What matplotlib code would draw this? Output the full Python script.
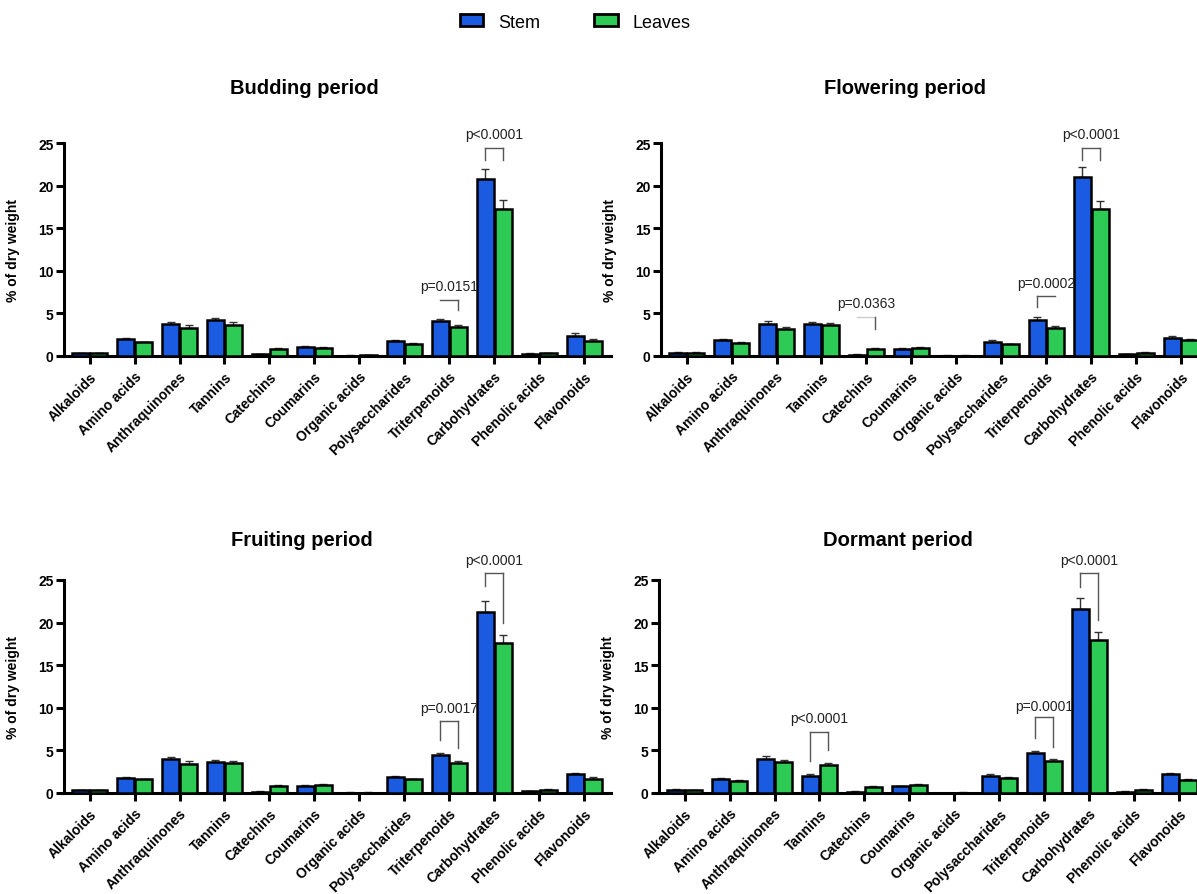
import numpy as np
import matplotlib
matplotlib.use("Agg")
import matplotlib.pyplot as plt
from matplotlib.patches import Patch

plt.rcParams['font.family'] = ['Liberation Sans', 'DejaVu Sans']

categories = ["Alkaloids", "Amino acids", "Anthraquinones", "Tannins", "Catechins",
              "Coumarins", "Organic acids", "Polysaccharides", "Triterpenoids",
              "Carbohydrates", "Phenolic acids", "Flavonoids"]

# % of dry weight
budding_stem = [0.35, 2.0, 3.7, 4.2, 0.2, 1.05, 0.05, 1.75, 4.1, 20.75, 0.25, 2.4]
budding_leaves = [0.35, 1.6, 3.3, 3.6, 0.85, 0.95, 0.08, 1.4, 3.35, 17.3, 0.35, 1.8]
budding_stem_err = [0.05, 0.1, 0.3, 0.3, 0.05, 0.08, 0.02, 0.1, 0.3, 1.25, 0.05, 0.25]
budding_leaves_err = [0.05, 0.1, 0.3, 0.35, 0.08, 0.08, 0.02, 0.1, 0.25, 1.0, 0.05, 0.2]

flowering_stem = [0.4, 1.85, 3.8, 3.8, 0.15, 0.85, 0.05, 1.7, 4.25, 21.0, 0.2, 2.15]
flowering_leaves = [0.4, 1.5, 3.2, 3.65, 0.85, 0.95, 0.05, 1.35, 3.3, 17.2, 0.4, 1.85]
flowering_stem_err = [0.05, 0.1, 0.25, 0.2, 0.03, 0.08, 0.02, 0.2, 0.3, 1.15, 0.03, 0.2]
flowering_leaves_err = [0.05, 0.1, 0.25, 0.2, 0.08, 0.08, 0.02, 0.1, 0.25, 1.0, 0.05, 0.1]

fruiting_stem = [0.35, 1.8, 3.95, 3.6, 0.15, 0.85, 0.05, 1.85, 4.45, 21.2, 0.2, 2.2]
fruiting_leaves = [0.3, 1.6, 3.4, 3.55, 0.85, 0.95, 0.05, 1.6, 3.5, 17.6, 0.4, 1.7]
fruiting_stem_err = [0.05, 0.1, 0.3, 0.3, 0.03, 0.08, 0.02, 0.2, 0.3, 1.35, 0.03, 0.15]
fruiting_leaves_err = [0.05, 0.1, 0.3, 0.25, 0.08, 0.08, 0.02, 0.1, 0.3, 0.95, 0.05, 0.15]

dormant_stem = [0.4, 1.7, 4.0, 2.05, 0.15, 0.8, 0.03, 2.05, 4.7, 21.6, 0.15, 2.2]
dormant_leaves = [0.3, 1.45, 3.6, 3.3, 0.75, 0.95, 0.05, 1.75, 3.7, 17.9, 0.4, 1.55]
dormant_stem_err = [0.05, 0.1, 0.3, 0.2, 0.03, 0.08, 0.02, 0.15, 0.25, 1.25, 0.03, 0.1]
dormant_leaves_err = [0.05, 0.1, 0.25, 0.2, 0.05, 0.08, 0.02, 0.1, 0.25, 0.95, 0.05, 0.15]

# significance brackets: (category, bracket height, left leg end, right leg end, label, label height)
budding_p = [(8, 6.6, None, 5.4, "p=0.0151", 8.2),
             (9, 24.4, 23.0, 23.0, "p<0.0001", 26.1)]
flowering_p = [(4, 4.6, None, 3.2, "p=0.0363", 6.2),
               (8, 7.05, 5.7, None, "p=0.0002", 8.6),
               (9, 24.4, 23.0, 23.0, "p<0.0001", 26.1)]
fruiting_p = [(8, 8.5, 6.25, 5.25, "p=0.0017", 9.95),
              (9, 25.8, 24.3, 19.9, "p<0.0001", 27.4)]
dormant_p = [(3, 7.2, 3.7, 5.0, "p<0.0001", 8.8),
             (8, 8.9, 6.45, 5.4, "p=0.0001", 10.25),
             (9, 25.8, 24.2, 20.3, "p<0.0001", 27.4)]

blue = '#1B5BE2'
green = '#2DCB55'

fig = plt.figure(figsize=(11.97, 8.95), dpi=100)
W, H = 1197, 895

def panel(left, top, bottom, title, title_x, title_y, stem, leaves, serr, lerr, pvals):
    ax = fig.add_axes([left / W, 1 - bottom / H, 547 / W, (bottom - top) / H])
    x = np.arange(len(categories))
    ax.bar(x - 0.2, stem, 0.38, color=blue, edgecolor='black', linewidth=1.8, zorder=3)
    ax.bar(x + 0.2, leaves, 0.38, color=green, edgecolor='black', linewidth=1.8, zorder=3)
    ax.errorbar(x - 0.2, stem, yerr=[np.zeros(len(x)), serr], fmt='none', ecolor='#333333',
                elinewidth=1, capsize=3, capthick=1, zorder=2)
    ax.errorbar(x + 0.2, leaves, yerr=[np.zeros(len(x)), lerr], fmt='none', ecolor='#333333',
                elinewidth=1, capsize=3, capthick=1, zorder=2)
    for c, yh, yl, yr, lab, yt in pvals:
        hcol = '#555555' if (yl is not None and yr is not None) or yh > 5 else '#cccccc'
        ax.plot([c - 0.2, c + 0.2], [yh, yh], color=hcol, lw=1, clip_on=False)
        if yl is not None:
            ax.plot([c - 0.2, c - 0.2], [yl, yh], color='#555555', lw=1, clip_on=False)
        if yr is not None:
            ax.plot([c + 0.2, c + 0.2], [yr, yh], color='#555555', lw=1, clip_on=False)
        ax.text(c, yt, lab, ha='center', va='center', fontsize=10, color='#222222', clip_on=False)
    ax.set_xlim(-0.57, 11.6)
    ax.set_ylim(0, 25)
    ax.set_yticks([0, 5, 10, 15, 20, 25])
    ax.set_xticks(x)
    ax.set_xticklabels(categories, rotation=45, ha='right', rotation_mode='anchor',
                       fontweight='bold', fontsize=10)
    for t in ax.get_yticklabels():
        t.set_fontweight('bold')
    ax.tick_params(axis='both', width=2.2, length=5.5, labelsize=10)
    ax.tick_params(axis='y', pad=2)
    ax.tick_params(axis='x', pad=4)
    for s in ['top', 'right']:
        ax.spines[s].set_visible(False)
    for s in ['left', 'bottom']:
        ax.spines[s].set_linewidth(2.2)
    ax.set_ylabel("% of dry weight", fontweight='bold', fontsize=10)
    ax.yaxis.set_label_coords(-0.08, 0.5)
    fig.text(title_x / W, 1 - title_y / H, title, ha='center', va='center',
             fontsize=14.5, fontweight='bold')
    return ax

panel(64, 144, 357, "Budding period", 304, 88, budding_stem, budding_leaves,
      budding_stem_err, budding_leaves_err, budding_p)
panel(661, 144, 357, "Flowering period", 905, 88, flowering_stem, flowering_leaves,
      flowering_stem_err, flowering_leaves_err, flowering_p)
panel(64, 581, 794, "Fruiting period", 302, 540, fruiting_stem, fruiting_leaves,
      fruiting_stem_err, fruiting_leaves_err, fruiting_p)
panel(659, 581, 794, "Dormant period", 898, 540, dormant_stem, dormant_leaves,
      dormant_stem_err, dormant_leaves_err, dormant_p)

handles = [Patch(facecolor=blue, edgecolor='black', linewidth=2, label='Stem'),
           Patch(facecolor=green, edgecolor='black', linewidth=2, label='Leaves')]
fig.legend(handles=handles, loc='center', bbox_to_anchor=(575 / W, 1 - 23 / H), ncol=2,
           frameon=False, fontsize=13, handlelength=1.3, handleheight=0.65,
           handletextpad=0.8, columnspacing=3.0)

fig.savefig("out.png", dpi=100)
